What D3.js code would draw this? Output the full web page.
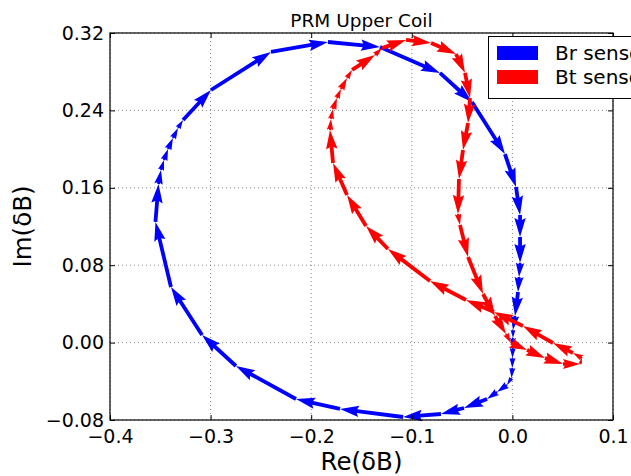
<!DOCTYPE html>
<html>
<head>
<meta charset="utf-8">
<script src="https://cdn.jsdelivr.net/npm/d3@7"></script>
<style>
body { margin: 0; background: #fff; }
text { font-family: "DejaVu Sans", sans-serif; }
</style>
</head>
<body>
<div id="chart"></div>
<script>
//Data
var brRe = [0.0006, 0.0006, 0.0003, 0.0001, -0.0001, -0.0009, -0.0054, -0.0153, -0.0252, -0.0481,
    -0.0710, -0.1087, -0.1714, -0.2151, -0.2748, -0.3085, -0.3394, -0.3548, -0.3518, -0.3493,
    -0.3463, -0.3423, -0.3374, -0.3324, -0.3274, -0.2996, -0.2400, -0.1833, -0.1316, -0.0720,
    -0.0402, -0.0074, 0.0036, 0.0076, 0.0076, 0.0076, 0.0066, 0.0056, 0.0026, 0.0006];
var brIm = [0.0130, 0.0048, -0.0056, -0.0159, -0.0262, -0.0366, -0.0438, -0.0511, -0.0583, -0.0676,
    -0.0738, -0.0769, -0.0686, -0.0583, -0.0242, 0.0079, 0.0575, 0.1247, 0.1639, 0.1784,
    0.1887, 0.2001, 0.2115, 0.2218, 0.2301, 0.2611, 0.3004, 0.3107, 0.3055, 0.2787,
    0.2487, 0.1949, 0.1608, 0.1319, 0.1091, 0.0823, 0.0678, 0.0523, 0.0275, 0.0130];

var btRe = [0.0692, 0.0602, 0.0404, 0.0105, -0.0183, -0.0461, -0.0819, -0.1237, -0.1455, -0.1644,
    -0.1783, -0.1813, -0.1803, -0.1783, -0.1744, -0.1704, -0.1644, -0.1594, -0.1366, -0.1296,
    -0.1058, -0.0809, -0.0561, -0.0471, -0.0421, -0.0441, -0.0491, -0.0531, -0.0541, -0.0521,
    -0.0441, -0.0292, -0.0173, -0.0064, -0.0014, 0.0145, 0.0324, 0.0503, 0.0672, 0.0692];
var btIm = [-0.0159, -0.0107, -0.0004, 0.0172, 0.0316, 0.0440, 0.0637, 0.0967, 0.1205, 0.1526,
    0.1856, 0.2197, 0.2311, 0.2414, 0.2528, 0.2621, 0.2735, 0.2818, 0.2973, 0.3045,
    0.3128, 0.3097, 0.2983, 0.2787, 0.2528, 0.2270, 0.1991, 0.1691, 0.1329, 0.1216,
    0.0885, 0.0502, 0.0275, 0.0089, -0.0004, -0.0077, -0.0159, -0.0221, -0.0221, -0.0159];

var xTicks = [-0.4, -0.3, -0.2, -0.1, 0.0, 0.1];
var yTicks = [-0.08, 0.00, 0.08, 0.16, 0.24, 0.32];
var seriesNames = ["Br sensor", "Bt sensor"];
var seriesColors = ["#0000ff", "#ff0000"];

//SVG dimensions
var svgWidth = 631;
var svgHeight = 476;

var margin = {
    top: 33,
    right: 18,
    bottom: 56,
    left: 110
};

var width = svgWidth - margin.left - margin.right;
var height = svgHeight - margin.top - margin.bottom;

var svg = d3.select("#chart")
    .append("svg")
    .attr("width", svgWidth)
    .attr("height", svgHeight);

var chartGroup = svg.append("g")
    .attr("transform", `translate(${margin.left}, ${margin.top})`);

var xScale = d3.scaleLinear().domain([-0.4, 0.1]).range([0, width]);
var yScale = d3.scaleLinear().domain([-0.08, 0.32]).range([height, 0]);

//Dotted grid
chartGroup.append("g")
    .selectAll("line")
    .data(xTicks)
    .enter()
    .append("line")
    .attr("x1", d => xScale(d))
    .attr("x2", d => xScale(d))
    .attr("y1", 0)
    .attr("y2", height)
    .attr("stroke", "#666")
    .attr("stroke-width", 0.8)
    .attr("stroke-dasharray", "1,3");

chartGroup.append("g")
    .selectAll("line")
    .data(yTicks)
    .enter()
    .append("line")
    .attr("x1", 0)
    .attr("x2", width)
    .attr("y1", d => yScale(d))
    .attr("y2", d => yScale(d))
    .attr("stroke", "#666")
    .attr("stroke-width", 0.8)
    .attr("stroke-dasharray", "1,3");

//Quiver-style arrows between consecutive points (matplotlib shape)
var shaftW = 3.8;
var headW = 3, headL = 5, headAxisL = 4.5;

function arrowPoints(L) {
    var l = L / shaftW;
    var xs, ys = [0.5, 0.5, headW / 2, 0, -headW / 2, -0.5, -0.5];
    if (l < headL) {
        var s = l / headL;
        xs = [0, headL - headAxisL, 0, headL, 0, headL - headAxisL, 0].map(v => v * s);
        ys = ys.map(v => v * s);
    } else {
        xs = [0, l - headAxisL, l - headL, l, l - headL, l - headAxisL, 0];
    }
    return xs.map((v, i) => [v * shaftW, ys[i] * shaftW]);
}

function drawQuiver(re, im, color) {
    var pts = re.map((d, i) => [xScale(d), yScale(im[i])]);
    var segs = [];
    for (var i = 0; i < pts.length - 1; i++) {
        segs.push([pts[i], pts[i + 1]]);
    }
    chartGroup.append("g")
        .selectAll("polygon")
        .data(segs)
        .enter()
        .append("polygon")
        .attr("points", d => {
            var dx = d[1][0] - d[0][0], dy = d[1][1] - d[0][1];
            return arrowPoints(Math.sqrt(dx * dx + dy * dy)).join(" ");
        })
        .attr("transform", d => {
            var ang = Math.atan2(d[1][1] - d[0][1], d[1][0] - d[0][0]) * 180 / Math.PI;
            return `translate(${d[0][0]}, ${d[0][1]}) rotate(${ang})`;
        })
        .attr("fill", color);
}

drawQuiver(brRe, brIm, seriesColors[0]);
drawQuiver(btRe, btIm, seriesColors[1]);

//Axes with inward ticks on all sides
var fmtX = d3.format(".1f");
var fmtY = d3.format(".2f");
var minus = s => s.replace("-", "\u2212");

var bottomAxis = d3.axisBottom(xScale).tickValues(xTicks).tickSizeInner(-5).tickSizeOuter(0)
    .tickPadding(10).tickFormat(d => minus(fmtX(d)));
var topAxis = d3.axisTop(xScale).tickValues(xTicks).tickSizeInner(-5).tickSizeOuter(0).tickFormat("");
var leftAxis = d3.axisLeft(yScale).tickValues(yTicks).tickSizeInner(-5).tickSizeOuter(0)
    .tickPadding(6).tickFormat(d => minus(fmtY(d)));
var rightAxis = d3.axisRight(yScale).tickValues(yTicks).tickSizeInner(-5).tickSizeOuter(0).tickFormat("");

chartGroup.append("g").attr("transform", `translate(0, ${height})`).call(bottomAxis);
chartGroup.append("g").call(topAxis);
chartGroup.append("g").call(leftAxis);
chartGroup.append("g").attr("transform", `translate(${width}, 0)`).call(rightAxis);

chartGroup.selectAll(".domain").remove();
chartGroup.selectAll(".tick line").attr("stroke", "#000");
chartGroup.selectAll(".tick text")
    .attr("fill", "#000")
    .style("font-size", "19px")
    .style("font-family", "'DejaVu Sans', sans-serif");

chartGroup.append("rect")
    .attr("x", 0)
    .attr("y", 0)
    .attr("width", width)
    .attr("height", height)
    .attr("fill", "none")
    .attr("stroke", "#000")
    .attr("stroke-width", 1.2);

//Title and axis labels
chartGroup.append("text")
    .attr("x", width / 2)
    .attr("y", -6)
    .attr("text-anchor", "middle")
    .style("font-size", "18.5px")
    .text("PRM Upper Coil");

chartGroup.append("text")
    .attr("x", width / 2)
    .attr("y", height + 50)
    .attr("text-anchor", "middle")
    .style("font-size", "24.5px")
    .text("Re(δB)");

chartGroup.append("text")
    .attr("transform", "rotate(-90)")
    .attr("x", 0 - height / 2)
    .attr("y", 0 - margin.left + 31)
    .attr("text-anchor", "middle")
    .style("font-size", "24.5px")
    .text("Im(δB)");

//Legend (runs past the right edge, as in the original figure)
var legend = svg.append("g");
legend.append("rect")
    .attr("x", 488.5)
    .attr("y", 36.5)
    .attr("width", 170)
    .attr("height", 62)
    .attr("fill", "#fff")
    .attr("stroke", "#000")
    .attr("stroke-width", 1);

legend.selectAll(".patch")
    .data(seriesNames)
    .enter()
    .append("rect")
    .attr("x", 497)
    .attr("y", (d, i) => 46 + i * 24)
    .attr("width", 41)
    .attr("height", 14)
    .attr("fill", (d, i) => seriesColors[i]);

legend.selectAll(".label")
    .data(seriesNames)
    .enter()
    .append("text")
    .attr("x", 555)
    .attr("y", (d, i) => 60 + i * 24)
    .style("font-size", "20px")
    .text(d => d);
</script>
</body>
</html>
